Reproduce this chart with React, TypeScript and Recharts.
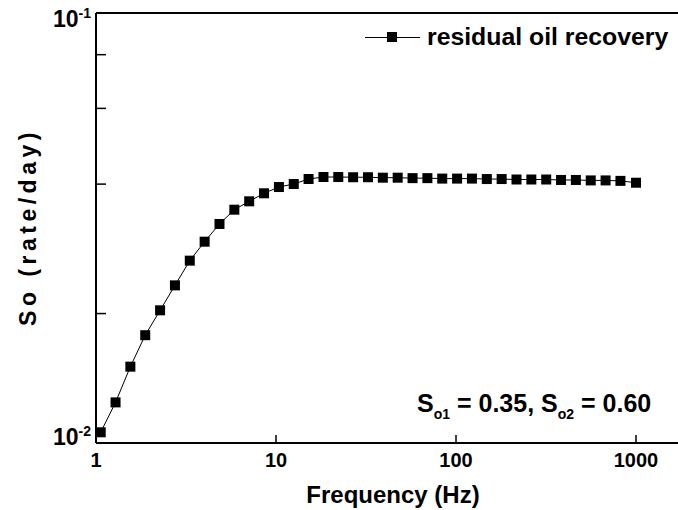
import React from 'react';
import { LineChart, Line, XAxis, YAxis, ReferenceLine, Label } from 'recharts';

// frequency (Hz) and So (rate/day)
const frequency = [
  1.062, 1.284, 1.552, 1.877, 2.27, 2.745, 3.319, 4.013, 4.853, 5.868,
  7.096, 8.581, 10.38, 12.55, 15.17, 18.35, 22.18, 26.82, 32.43, 39.22,
  47.42, 57.35, 69.34, 83.85, 101.4, 122.6, 148.3, 179.3, 216.8, 262.1,
  317.0, 383.3, 463.4, 560.4, 677.6, 819.4, 1000,
];
const residualOil = [
  0.01059, 0.01243, 0.01505, 0.01781, 0.02035, 0.02326, 0.02655, 0.02939, 0.03231, 0.03488,
  0.03648, 0.03808, 0.03938, 0.04002, 0.04111, 0.04155, 0.04155, 0.0415, 0.0415, 0.0414,
  0.0414, 0.0413, 0.0413, 0.0412, 0.0412, 0.0412, 0.0411, 0.0411, 0.041, 0.041,
  0.041, 0.0409, 0.0409, 0.0408, 0.0408, 0.0407, 0.0403,
];
const xTicks = [1, 10, 100, 1000];
const yTicks = [0.01, 0.02, 0.04, 0.06, 0.08, 0.1];
const yTickExponent: Record<string, string> = { '0.01': '-2', '0.1': '-1' };

const data = frequency.map((f, i) => ({ f, so: residualOil[i] }));

const FONT = '"Liberation Sans", Arial, sans-serif';

const SquareDot = (props: any) => {
  const { cx, cy } = props;
  if (cx == null || cy == null) return null;
  return <rect x={cx - 5} y={cy - 5} width={10} height={10} fill="#000" />;
};

const XTick = ({ x, y, payload }: any) => (
  <g>
    <line x1={x} x2={x} y1={y} y2={y - 8} stroke="#000" strokeWidth={1.5} />
    <text x={x} y={y + 24} textAnchor="middle" fontFamily={FONT} fontWeight="bold" fontSize={20} fill="#000">
      {payload.value}
    </text>
  </g>
);

const YTick = ({ x, y, payload }: any) => {
  const exp = yTickExponent[String(payload.value)];
  const baseline = payload.value === 0.1 ? y + 14 : y + 2;
  return (
    <g>
      <line x1={x} x2={x + 10} y1={y} y2={y} stroke="#000" strokeWidth={1.5} />
      {exp && (
        <text x={x - 5} y={baseline} textAnchor="end" fontFamily={FONT} fontWeight="bold" fontSize={23} fill="#000">
          10
          <tspan dy={-9} fontSize={14}>{exp}</tspan>
        </text>
      )}
    </g>
  );
};

export default function App() {
  return (
    <div style={{ position: 'absolute', left: 0, top: 0, background: '#fff' }}>
      <LineChart width={678} height={510} data={data} margin={{ top: 13, right: 0, left: 0, bottom: 0 }}>
        <XAxis
          dataKey="f"
          type="number"
          scale="log"
          domain={[1, 1711]}
          allowDataOverflow
          ticks={xTicks}
          tick={<XTick />}
          tickSize={0}
          tickMargin={0}
          tickLine={false}
          height={67}
          axisLine={{ stroke: '#000', strokeWidth: 2 }}
        >
          <Label
            content={({ viewBox }: any) => (
              <text
                x={viewBox.x + viewBox.width / 2 + 6}
                y={503}
                textAnchor="middle"
                fontFamily={FONT}
                fontWeight="bold"
                fontSize={24}
                fill="#000"
              >
                Frequency (Hz)
              </text>
            )}
          />
        </XAxis>
        <YAxis
          dataKey="so"
          type="number"
          scale="log"
          domain={[0.01, 0.1]}
          allowDataOverflow
          ticks={yTicks}
          tick={<YTick />}
          tickSize={0}
          tickMargin={0}
          tickLine={false}
          width={96}
          axisLine={{ stroke: '#000', strokeWidth: 2 }}
        >
          <Label
            content={() => (
              <text
                x={36}
                y={227}
                transform="rotate(-90, 36, 227)"
                textAnchor="middle"
                fontFamily={FONT}
                fontWeight="bold"
                fontSize={23}
                letterSpacing={4.5}
                fill="#000"
              >
                So (rate/day)
              </text>
            )}
          />
        </YAxis>
        <ReferenceLine y={0.1} stroke="#000" strokeWidth={2} />
        <Line
          dataKey="so"
          type="linear"
          stroke="#000"
          strokeWidth={1}
          dot={<SquareDot />}
          activeDot={false}
          isAnimationActive={false}
        />
        <g>
          <line x1={365} x2={420} y1={37.5} y2={37.5} stroke="#000" strokeWidth={1} />
          <rect x={387} y={32} width={10} height={10} fill="#000" />
          <text x={427} y={45} fontFamily={FONT} fontWeight="bold" fontSize={24.8} fill="#000">
            residual oil recovery
          </text>
        </g>
        <text x={417} y={412} fontFamily={FONT} fontWeight="bold" fontSize={25} fill="#000">
          S<tspan dy={7} fontSize={14}>o1</tspan>
          <tspan dy={-7}> = 0.35, S</tspan>
          <tspan dy={7} fontSize={14}>o2</tspan>
          <tspan dy={-7}> = 0.60</tspan>
        </text>
      </LineChart>
    </div>
  );
}
